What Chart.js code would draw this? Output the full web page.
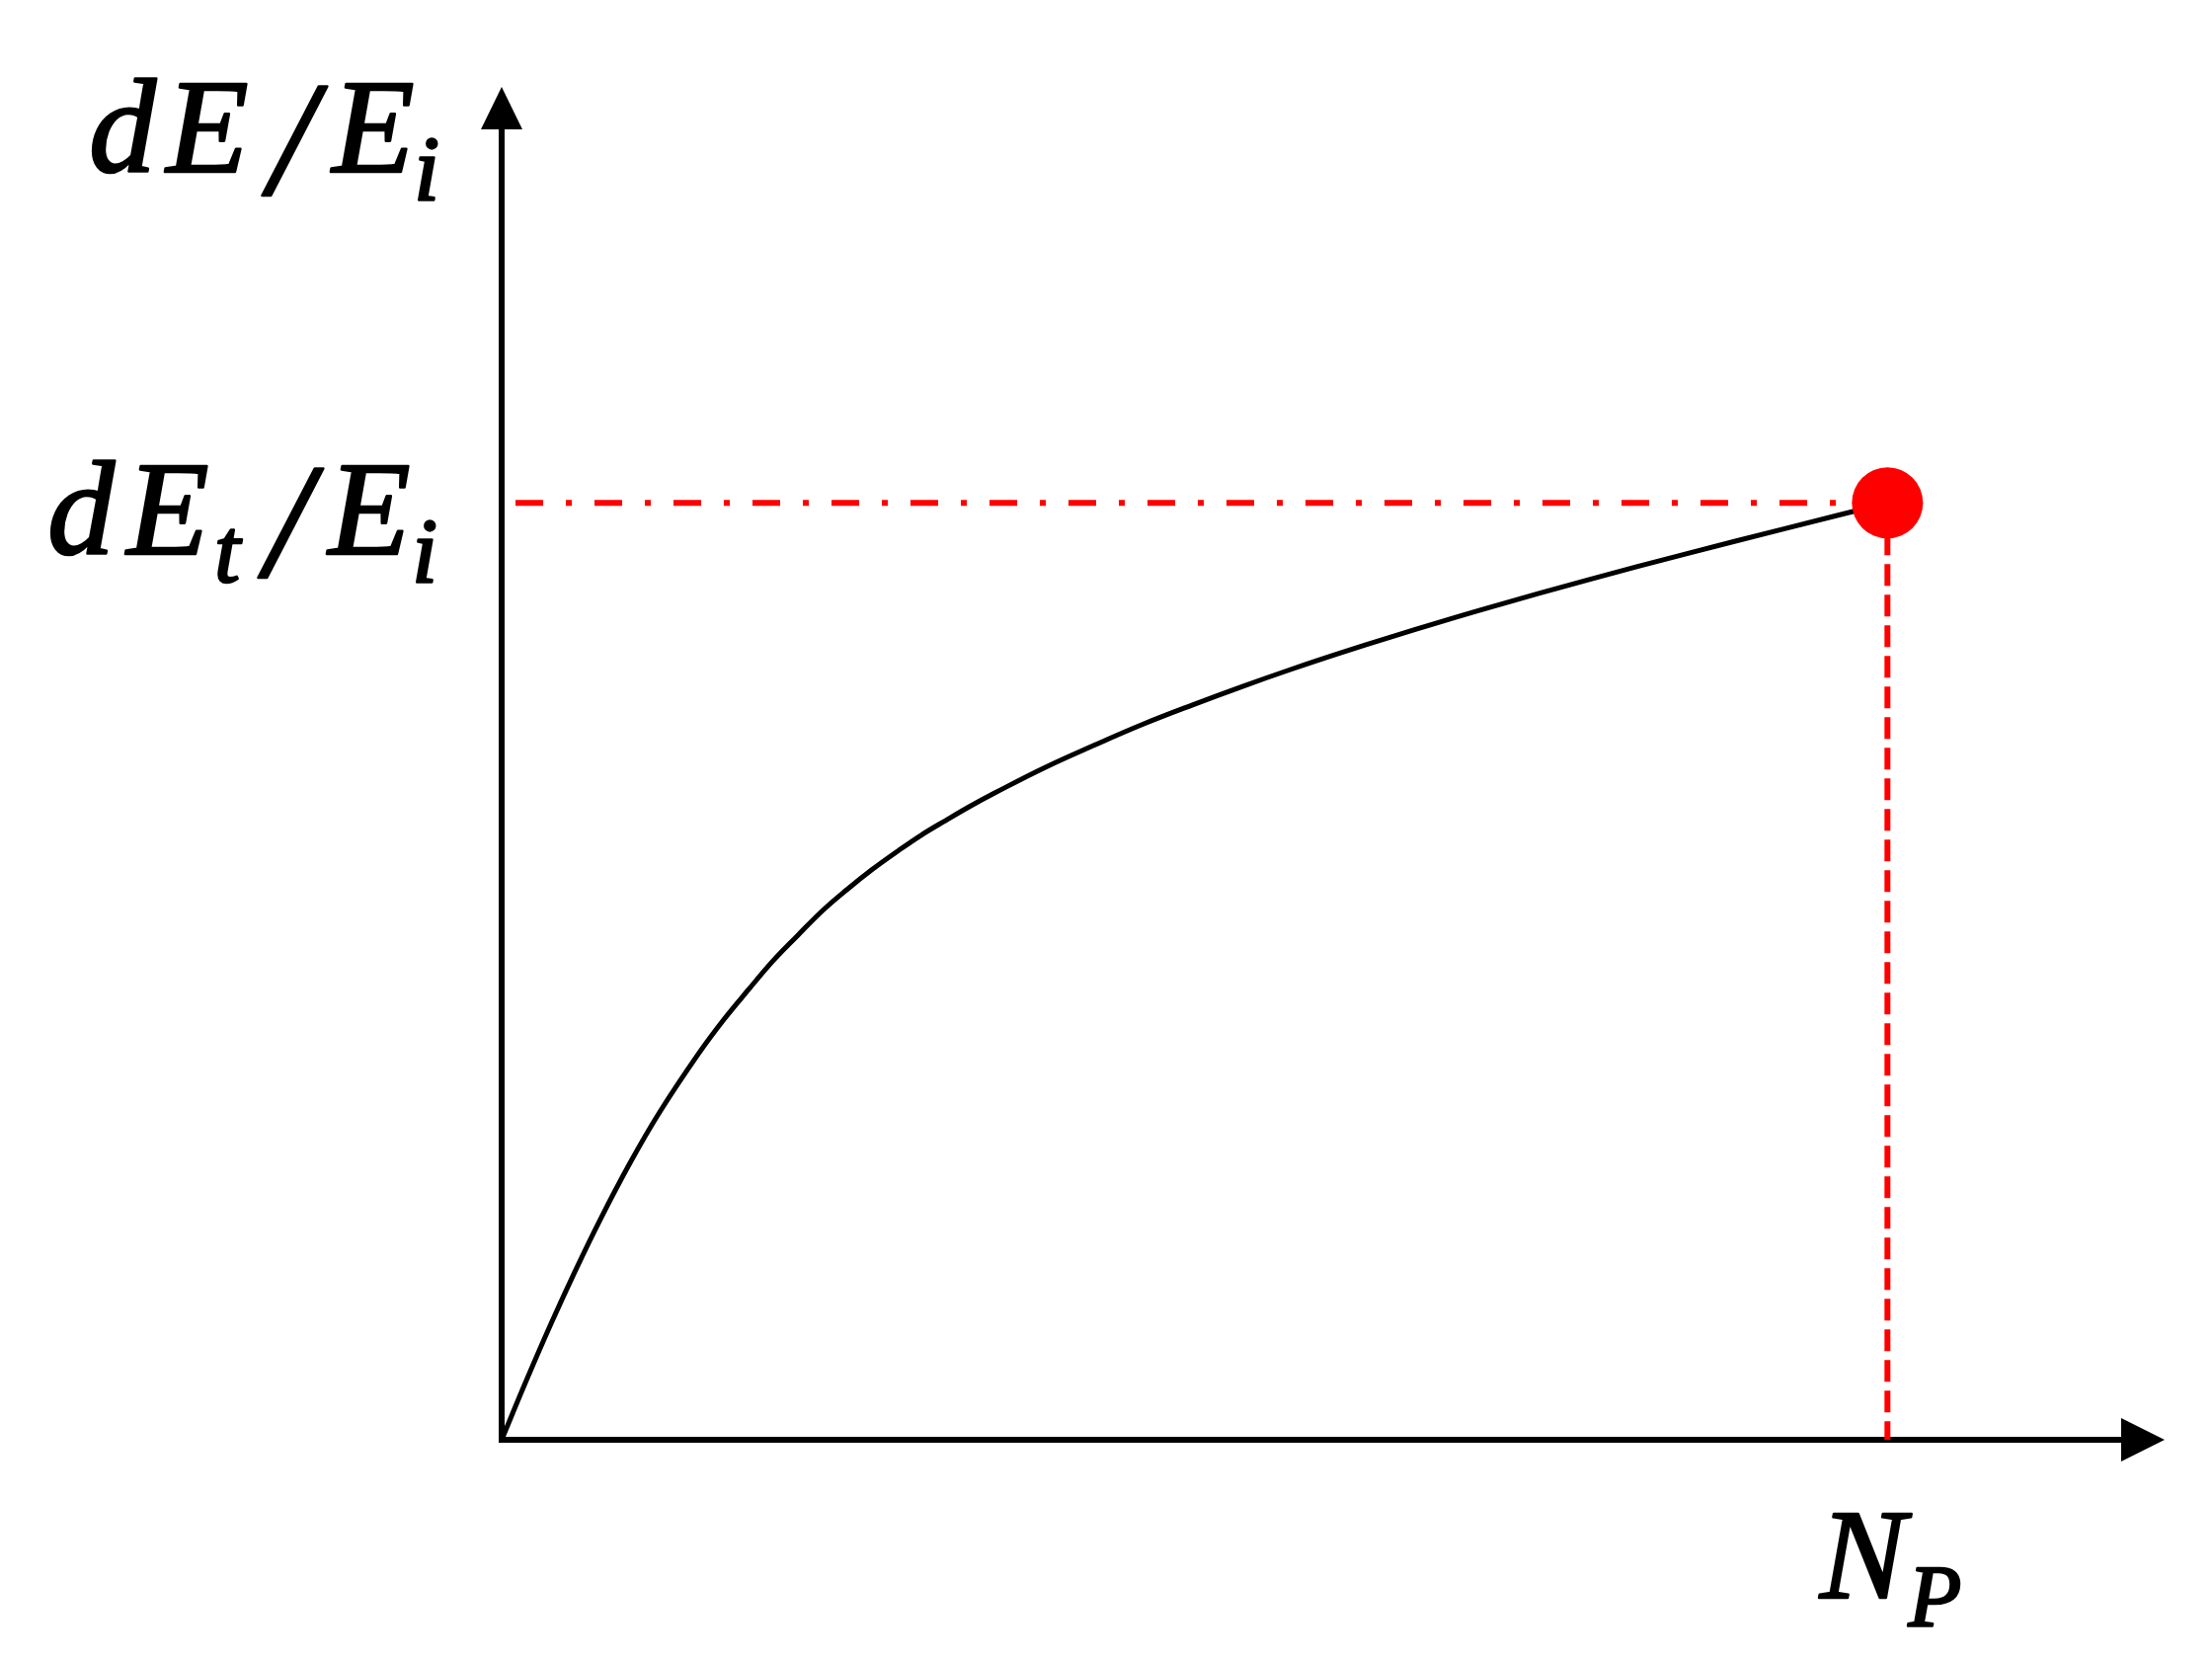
<!DOCTYPE html>
<html>
<head>
<meta charset="utf-8">
<script src="https://cdn.jsdelivr.net/npm/chart.js@4.4.1/dist/chart.umd.min.js"></script>
<style>
  body { margin: 0; background: #fff; }
  #wrap { width: 2240px; height: 1680px; }
</style>
</head>
<body>
<div id="wrap"><canvas id="chart"></canvas></div>
<script>
// curve dE/Ei against N, in units of N_P (x) and dE_t/E_i (y)
var curveX = [0, 0.0178, 0.0356, 0.0534, 0.0712, 0.0926, 0.1140, 0.1425, 0.1603, 0.1781, 0.1959, 0.2137, 0.2315, 0.2493, 0.2671, 0.2849, 0.3027, 0.3205, 0.3383, 0.3561, 0.3917, 0.4274, 0.4630, 0.4986, 0.5342, 0.5698, 0.6054, 0.6410, 0.6766, 0.7123, 0.7835, 0.8547, 0.9259, 1.0];
var curveY = [0, 0.0632, 0.1238, 0.1812, 0.2353, 0.2954, 0.3497, 0.4130, 0.4485, 0.4804, 0.5113, 0.5384, 0.5647, 0.5874, 0.6084, 0.6274, 0.6453, 0.6611, 0.6764, 0.6906, 0.7173, 0.7412, 0.7639, 0.7844, 0.8039, 0.8224, 0.8399, 0.8566, 0.8727, 0.8882, 0.9177, 0.9456, 0.9725, 1.0];

// the marked point (N_P, dE_t/E_i)
var markX = [1];
var markY = [1];

var xMax = 1.2;
var yMax = 1.444;

function pts(xs, ys) {
    var out = [];
    for (var i = 0; i < xs.length; i++) out.push({x: xs[i], y: ys[i]});
    return out;
}

var serif = '"Liberation Serif", "Times New Roman", serif';

// axes with arrow heads and the math labels
var axesPlugin = {
    id: 'axes',
    beforeDatasetsDraw: function(chart) {
        var ctx = chart.ctx;
        var xs = chart.scales.x, ys = chart.scales.y;
        var x0 = xs.getPixelForValue(0), y0 = ys.getPixelForValue(0);
        var xt = xs.getPixelForValue(xMax), yt = ys.getPixelForValue(yMax);
        ctx.save();
        ctx.strokeStyle = '#000';
        ctx.fillStyle = '#000';
        ctx.lineWidth = 6;
        ctx.beginPath();
        ctx.moveTo(x0, y0 + 3);
        ctx.lineTo(x0, yt + 40);
        ctx.moveTo(x0 - 3, y0);
        ctx.lineTo(xt - 42, y0);
        ctx.stroke();
        ctx.beginPath();
        ctx.moveTo(x0, yt);
        ctx.lineTo(x0 - 21, yt + 43);
        ctx.lineTo(x0 + 21, yt + 43);
        ctx.closePath();
        ctx.fill();
        ctx.beginPath();
        ctx.moveTo(xt, y0);
        ctx.lineTo(xt - 44, y0 - 22);
        ctx.lineTo(xt - 44, y0 + 22);
        ctx.closePath();
        ctx.fill();
        ctx.restore();
    },
    afterDraw: function(chart) {
        var ctx = chart.ctx;
        var xs = chart.scales.x, ys = chart.scales.y;
        var x0 = xs.getPixelForValue(0), y0 = ys.getPixelForValue(0);
        var yt = ys.getPixelForValue(yMax);
        var yE = ys.getPixelForValue(markY[0]);
        var xN = xs.getPixelForValue(markX[0]);
        ctx.save();
        ctx.fillStyle = '#000';
        ctx.strokeStyle = '#000';
        ctx.lineWidth = 2.5;
        ctx.lineJoin = 'round';
        ctx.textAlign = 'center';
        ctx.textBaseline = 'alphabetic';
        function put(t, x, y, size) {
            ctx.font = 'italic ' + size + 'px ' + serif;
            ctx.fillText(t, x, y);
            ctx.strokeText(t, x, y);
        }
        // dE / E_i at the top of the y axis
        var b = yt + 86;
        put('d', x0 - 384, b, 136);
        put('E', x0 - 298, b, 136);
        put('/', x0 - 212, b + 22, 165);
        put('E', x0 - 130, b, 136);
        put('i', x0 - 76, b + 28, 94);
        // dE_t / E_i beside the dashed level
        b = yE + 52;
        put('d', x0 - 426, b, 136);
        put('E', x0 - 338, b, 136);
        put('t', x0 - 278, b + 28, 94);
        put('/', x0 - 216, b + 22, 165);
        put('E', x0 - 134, b, 136);
        put('i', x0 - 78, b + 28, 94);
        // N_P under the x axis
        put('N', xN - 25, y0 + 160, 130);
        put('P', xN + 48, y0 + 188, 88);
        ctx.restore();
    }
};

var ctxC = document.getElementById('chart').getContext('2d');
var myChart = new Chart(ctxC, {
    type: 'line',
    data: {
        datasets: [
            {
                data: pts(markX, markY),
                showLine: false,
                pointRadius: 36,
                pointBackgroundColor: '#FF0000',
                pointBorderWidth: 0
            },
            {
                data: pts(curveX, curveY),
                borderColor: '#000',
                borderWidth: 5,
                pointRadius: 0,
                fill: false,
                tension: 0.4
            },
            {
                data: [{x: 0.01, y: markY[0]}, {x: markX[0], y: markY[0]}],
                borderColor: '#FF0000',
                borderWidth: 6,
                borderDash: [28, 23, 6, 23],
                pointRadius: 0,
                fill: false
            },
            {
                data: [{x: markX[0], y: markY[0]}, {x: markX[0], y: 0}],
                borderColor: '#FF0000',
                borderWidth: 6,
                borderDash: [22, 9],
                pointRadius: 0,
                fill: false
            }
        ]
    },
    options: {
        responsive: true,
        maintainAspectRatio: false,
        animation: false,
        layout: { padding: { left: 508, right: 48, top: 88, bottom: 222 } },
        scales: {
            x: { type: 'linear', min: 0, max: xMax, display: false },
            y: { type: 'linear', min: 0, max: yMax, display: false }
        },
        plugins: {
            legend: { display: false },
            tooltip: { enabled: false }
        }
    },
    plugins: [axesPlugin]
});
</script>
</body>
</html>
